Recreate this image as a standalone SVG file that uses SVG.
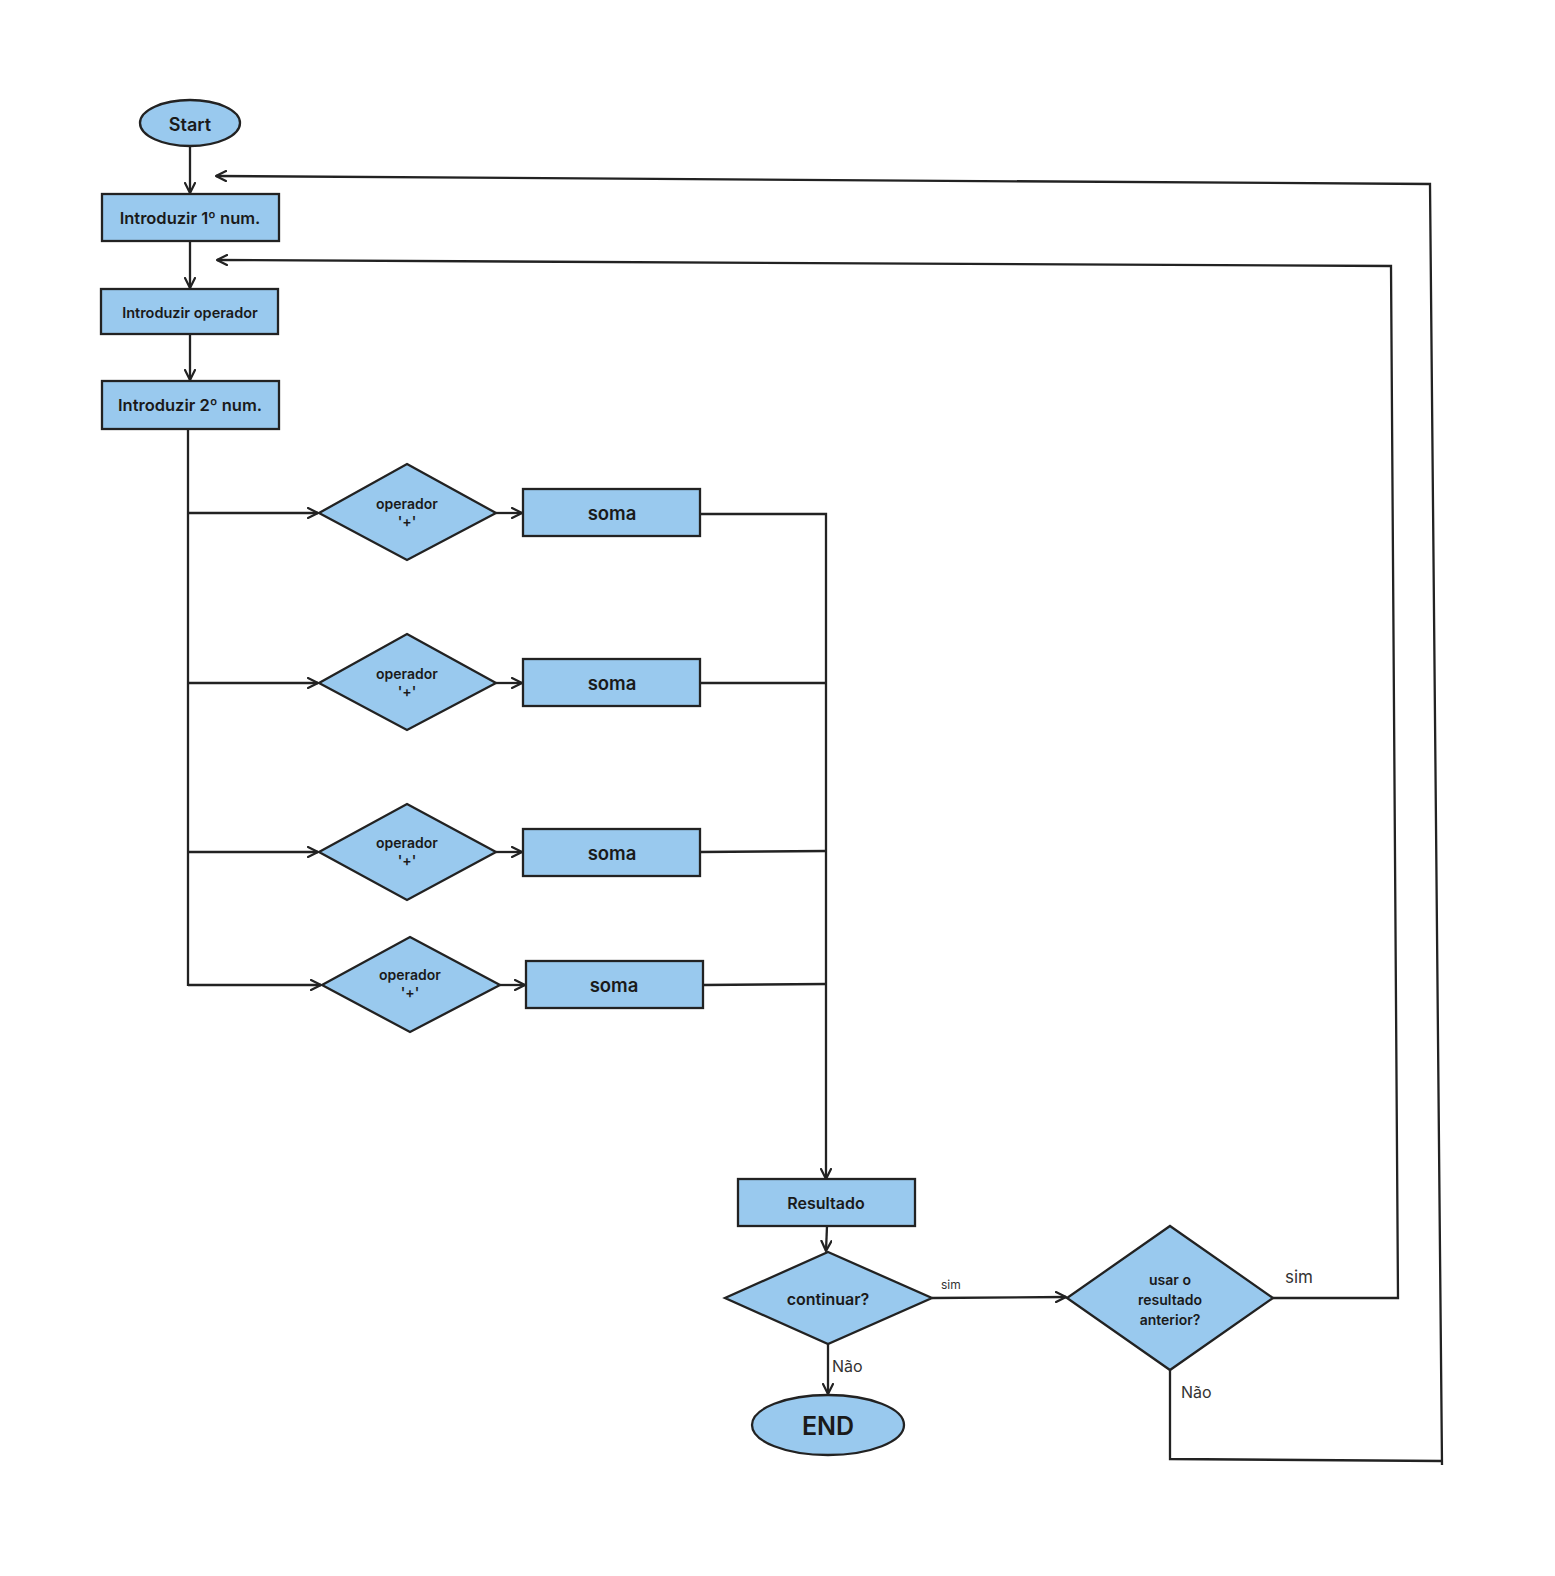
<svg xmlns="http://www.w3.org/2000/svg" width="1555" height="1576" viewBox="0 0 1555 1576">
  <defs>
    <marker id="arrow" viewBox="0 0 12 12" refX="11" refY="6" markerWidth="12" markerHeight="12" markerUnits="userSpaceOnUse" orient="auto">
      <path d="M1,1 L11,6 L1,11" fill="none" stroke="#222" stroke-width="2.2" stroke-linecap="round" stroke-linejoin="round"/>
    </marker>
    <style>
      .node { fill: #99c9ee; stroke: #222; stroke-width: 2.3; }
      .t { font-family: Inter, "Noto Sans", "Liberation Sans", sans-serif; font-weight: 600; fill: #1a1a1a; text-anchor: middle; dominant-baseline: central; }
      .lbl { font-family: Inter, "Noto Sans", "Liberation Sans", sans-serif; font-weight: 400; fill: #333; }
      .edge { fill: none; stroke: #222; stroke-width: 2.3; stroke-linejoin: miter; }
      .arr { marker-end: url(#arrow); }
    </style>
  </defs>
  <rect width="1555" height="1576" fill="#ffffff"/>

  <!-- connectors -->
  <g id="connectors">
    <path class="edge arr" d="M190,146 L190,193"/>
    <path class="edge arr" d="M190,241 L190,288"/>
    <path class="edge arr" d="M190,334 L190,380"/>

    <!-- operator trunk and branches -->
    <path class="edge" d="M188,430 L188,986"/>
    <path class="edge arr" d="M188,513 L318,513"/>
    <path class="edge arr" d="M188,683 L318,683"/>
    <path class="edge arr" d="M188,852 L318,852"/>
    <path class="edge arr" d="M188,985 L321,985"/>

    <path class="edge arr" d="M496,513 L522,513"/>
    <path class="edge arr" d="M496,683 L522,683"/>
    <path class="edge arr" d="M496,852 L522,852"/>
    <path class="edge arr" d="M500,985 L525,985"/>

    <!-- results merge into Resultado -->
    <path class="edge arr" d="M700,514 L826,514 L826,1179"/>
    <path class="edge" d="M700,683 L826,683"/>
    <path class="edge" d="M700,852 L826,851"/>
    <path class="edge" d="M703,985 L826,984"/>

    <path class="edge arr" d="M827,1226 L826,1251"/>
    <path class="edge arr" d="M828,1344 L828,1394"/>
    <path class="edge arr" d="M932,1298 L1066,1297"/>

    <!-- loops back -->
    <path class="edge arr" d="M1273,1298 L1398,1298 L1391,266 L217,260"/>
    <path class="edge" d="M1170,1370 L1170,1459 L1442,1461"/>
    <path class="edge arr" d="M1442,1465 L1430,184 L216,176"/>

    <text class="lbl" x="941" y="1289" font-size="12">sim</text>
    <text class="lbl" x="832" y="1372" font-size="16">Não</text>
    <text class="lbl" x="1285" y="1283" font-size="17">sim</text>
    <text class="lbl" x="1181" y="1398" font-size="16">Não</text>
  </g>

  <g id="start">
    <ellipse class="node" cx="190" cy="123" rx="50" ry="23"/>
    <text class="t" x="190" y="124" font-size="18">Start</text>
  </g>
  <g id="input1">
    <rect class="node" x="102" y="194" width="177" height="47"/>
    <text class="t" x="190" y="218" font-size="16.5">Introduzir 1º num.</text>
  </g>
  <g id="inputOp">
    <rect class="node" x="101" y="289" width="177" height="45"/>
    <text class="t" x="190" y="312" font-size="14.5">Introduzir operador</text>
  </g>
  <g id="input2">
    <rect class="node" x="102" y="381" width="177" height="48"/>
    <text class="t" x="190" y="405" font-size="16.5">Introduzir 2º num.</text>
  </g>

  <g id="op1">
    <polygon class="node" points="407,464 496,513 407,560 319,513"/>
    <text class="t" x="407" y="503" font-size="14">operador</text>
    <text class="t" x="407" y="521" font-size="14">'+'</text>
  </g>
  <g id="op2">
    <polygon class="node" points="407,634 496,683 407,730 319,683"/>
    <text class="t" x="407" y="673" font-size="14">operador</text>
    <text class="t" x="407" y="691" font-size="14">'+'</text>
  </g>
  <g id="op3">
    <polygon class="node" points="407,804 496,852 407,900 319,852"/>
    <text class="t" x="407" y="842" font-size="14">operador</text>
    <text class="t" x="407" y="860" font-size="14">'+'</text>
  </g>
  <g id="op4">
    <polygon class="node" points="410,937 500,985 410,1032 322,985"/>
    <text class="t" x="410" y="974" font-size="14">operador</text>
    <text class="t" x="410" y="992" font-size="14">'+'</text>
  </g>

  <g id="soma1">
    <rect class="node" x="523" y="489" width="177" height="47"/>
    <text class="t" x="612" y="513" font-size="18.5">soma</text>
  </g>
  <g id="soma2">
    <rect class="node" x="523" y="659" width="177" height="47"/>
    <text class="t" x="612" y="683" font-size="18.5">soma</text>
  </g>
  <g id="soma3">
    <rect class="node" x="523" y="829" width="177" height="47"/>
    <text class="t" x="612" y="853" font-size="18.5">soma</text>
  </g>
  <g id="soma4">
    <rect class="node" x="526" y="961" width="177" height="47"/>
    <text class="t" x="614" y="985" font-size="18.5">soma</text>
  </g>

  <g id="resultado">
    <rect class="node" x="738" y="1179" width="177" height="47"/>
    <text class="t" x="826" y="1203" font-size="16">Resultado</text>
  </g>
  <g id="continuar">
    <polygon class="node" points="828,1252 932,1298 828,1344 725,1298"/>
    <text class="t" x="828" y="1299" font-size="16">continuar?</text>
  </g>
  <g id="end">
    <ellipse class="node" cx="828" cy="1425" rx="76" ry="30"/>
    <text class="t" x="828" y="1426" font-size="25" font-weight="700">END</text>
  </g>
  <g id="usarResultado">
    <polygon class="node" points="1170,1226 1273,1298 1170,1370 1067,1298"/>
    <text class="t" x="1170" y="1279" font-size="14">usar o</text>
    <text class="t" x="1170" y="1299" font-size="14">resultado</text>
    <text class="t" x="1170" y="1319" font-size="14">anterior?</text>
  </g>
</svg>
